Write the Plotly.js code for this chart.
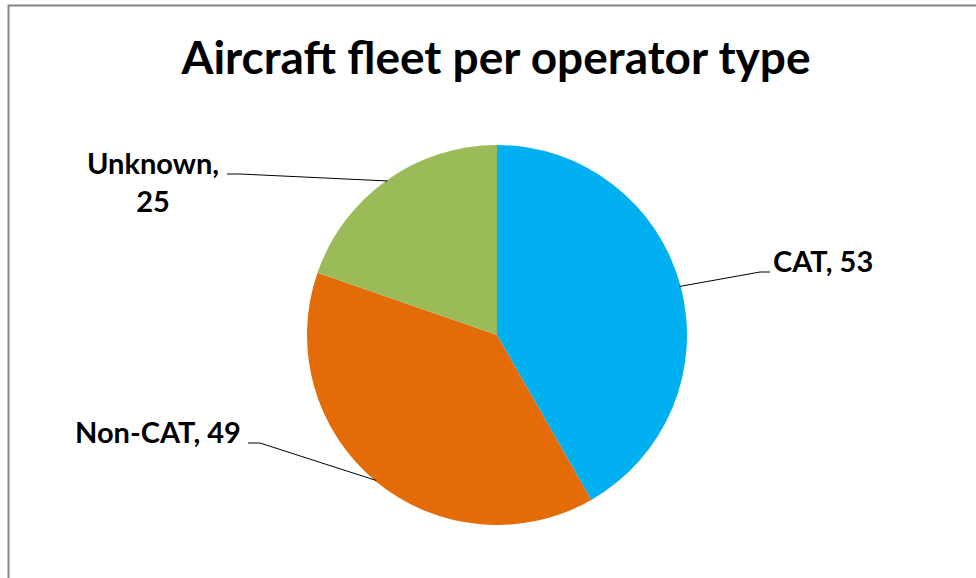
<!DOCTYPE html>
<html>
<head>
<meta charset="utf-8">
<script src="https://cdn.plot.ly/plotly-3.0.1.min.js"></script>
<style>html,body{margin:0;padding:0;background:#fff;}#chart{width:976px;height:578px;}</style>
</head>
<body>
<div id="chart"></div>
<script>
const categories = ["CAT", "Non-CAT", "Unknown"];
const values = [53, 49, 25];
const colors = ["#00B0F0", "#E36C09", "#9BBB59"];
const chartTitle = "Aircraft fleet per operator type";

const W = 976, H = 578;
const cx = 497, cy = 335, R = 190;
const px = x => x / W;
const py = y => 1 - y / H;

// label layout (pixel positions of text and leader elbows)
const labelLayout = {
  "CAT":     {x: 771, y: 261, xanchor: "left", sep: ", ", elbow: [[760, 272], [770, 272]]},
  "Non-CAT": {x: 243, y: 431, xanchor: "right", sep: ", ", elbow: [[260, 443], [248, 443]]},
  "Unknown": {x: 153, y: 182, xanchor: "center", sep: ",<br>", elbow: [[240, 174], [227, 174]]}
};

const total = values.reduce((a, b) => a + b, 0);
let cum = 0;
const shapes = [];
const annotations = [];
categories.forEach((c, i) => {
  const mid = (cum + values[i] / 2) / total;
  cum += values[i];
  const ang = mid * 2 * Math.PI;
  const ax = cx + R * Math.sin(ang) * 0.995;
  const ay = cy - R * Math.cos(ang) * 0.995;
  const L = labelLayout[c];
  const pts = [[ax, ay]].concat(L.elbow);
  const path = pts.map((p, k) => (k ? "L" : "M") + px(p[0]).toFixed(5) + "," + py(p[1]).toFixed(5)).join(" ");
  shapes.push({type: "path", xref: "paper", yref: "paper", path: path, line: {color: "#000000", width: 1}});
  annotations.push({
    xref: "paper", yref: "paper", x: px(L.x), y: py(L.y), xanchor: L.xanchor, yanchor: "middle",
    text: "<b>" + c + L.sep + values[i] + "</b>",
    showarrow: false, align: "center",
    font: {family: "Lato, 'Open Sans', sans-serif", size: 29, color: "#000000"}
  });
});

shapes.push({type: "rect", xref: "paper", yref: "paper", x0: px(8.5), x1: 1.2, y0: -0.2, y1: py(5.5),
  line: {color: "#868686", width: 2}, fillcolor: "rgba(0,0,0,0)", layer: "below"});

const data = [{
  type: "pie",
  labels: categories,
  values: values,
  marker: {colors: colors, line: {width: 0}},
  sort: false,
  direction: "clockwise",
  rotation: 0,
  textinfo: "none",
  hoverinfo: "label+value",
  domain: {x: [px(cx - R), px(cx + R)], y: [py(cy + R), py(cy - R)]}
}];

const layout = {
  width: W, height: H,
  margin: {l: 0, r: 0, t: 0, b: 0},
  paper_bgcolor: "#ffffff",
  showlegend: false,
  title: {text: "<b>" + chartTitle + "</b>", x: px(496), xanchor: "center", y: py(58), yanchor: "middle",
    font: {family: "Lato, 'Open Sans', sans-serif", size: 46, color: "#000000"}},
  shapes: shapes,
  annotations: annotations
};

Plotly.newPlot("chart", data, layout, {displayModeBar: false, staticPlot: true});
</script>
</body>
</html>
